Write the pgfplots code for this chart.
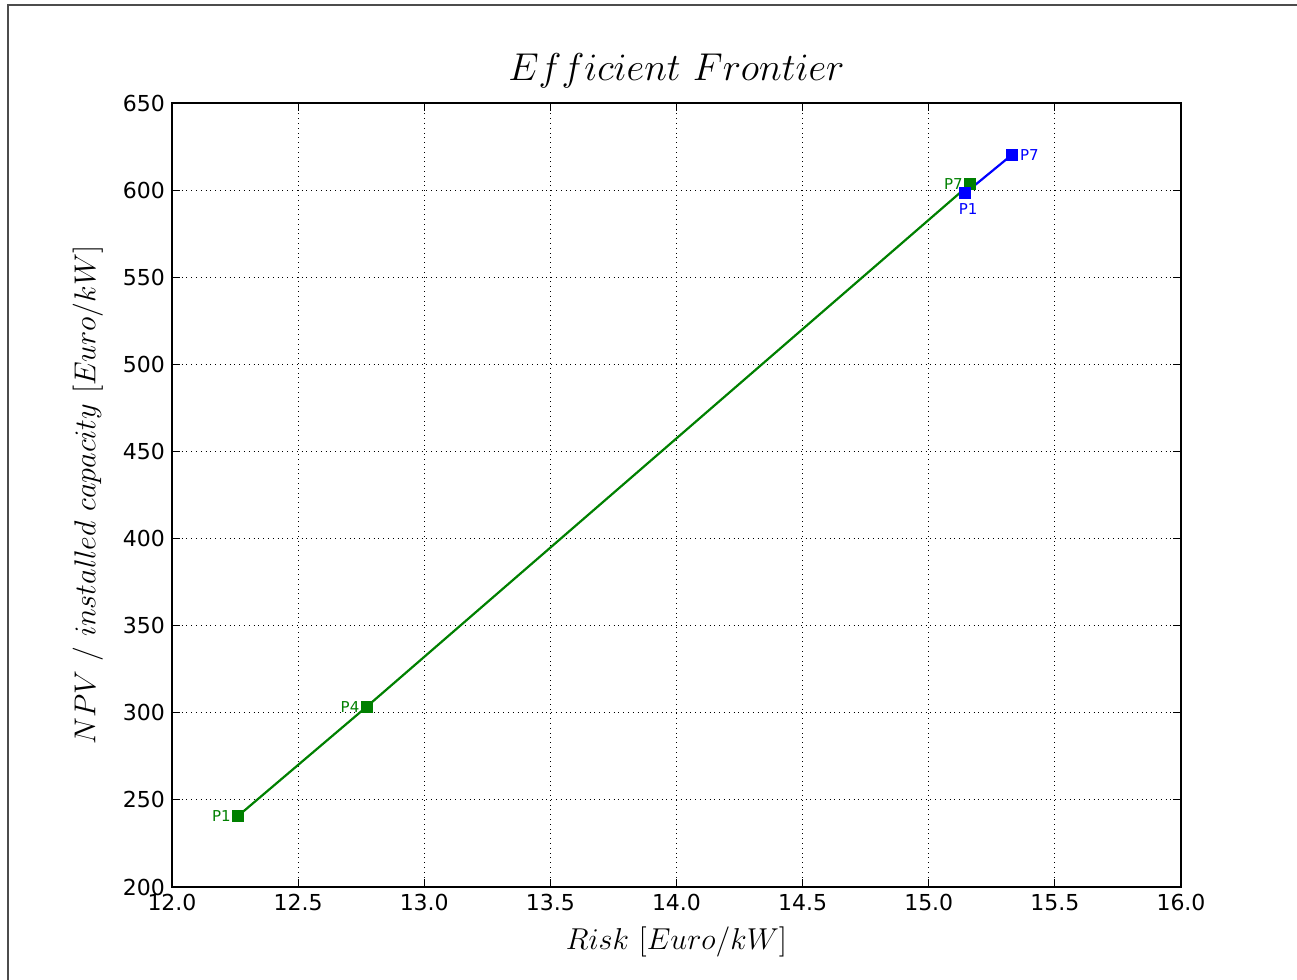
\documentclass[border=0pt]{standalone}
\usepackage{fix-cm}
\usepackage[no-math]{fontspec}
\setmainfont{DejaVu Sans}
\usepackage{pgfplots}
\pgfplotsset{compat=1.18}
\definecolor{mplgreen}{RGB}{0,128,0}
\definecolor{mplblue}{RGB}{0,0,255}
\begin{document}
\begin{tikzpicture}
\begin{axis}[
  at={(0,0)}, anchor=south west,
  scale only axis,
  width=504.5pt, height=392pt,
  xmin=12, xmax=16, ymin=200, ymax=650,
  xtick={12,12.5,...,16}, ytick={200,250,...,650},
  xticklabel style={/pgf/number format/.cd, fixed, fixed zerofill, precision=1},
  /pgf/number format/assume math mode=true,
  ticklabel style={font=\fontsize{11}{13}\selectfont},
  tick align=inside, major tick length=4pt,
  tick style={black, line width=0.5pt},
  axis line style={black, line width=0.8pt},
  grid=major,
  grid style={black, dotted, line width=0.5pt},
  title={$Efficient\ Frontier$},
  title style={font=\fontsize{19.4}{23}\selectfont, at={(axis description cs:0.5,1)}, anchor=base, yshift=5pt},
  xlabel={$Risk\ [Euro/kW]$},
  ylabel={$NPV\ /\ installed\ capacity\ [Euro/kW]$},
  xlabel style={font=\fontsize{15.1}{18}\selectfont, at={(axis description cs:0.5,-0.0702)}, anchor=center},
  ylabel style={font=\fontsize{15.1}{18}\selectfont, at={(axis description cs:-0.0833,0.5)}, anchor=center},
]
% green frontier
\addplot[color=mplgreen, line width=1.1pt, mark=square*, mark size=2.5pt,
  mark options={fill=mplgreen, draw=mplgreen}]
  coordinates {(12.262,240.8) (12.772,303.5) (15.164,603.5)};
% blue frontier
\addplot[color=mplblue, line width=1.1pt, mark=square*, mark size=2.5pt,
  mark options={fill=mplblue, draw=mplblue}]
  coordinates {(15.144,598.2) (15.329,620.2)};
\begin{scope}[font=\fontsize{7.5}{9}\selectfont]
\node[anchor=east, text=mplgreen, inner sep=0pt, xshift=-3.5pt] at (axis cs:12.262,240.8) {P1};
\node[anchor=east, text=mplgreen, inner sep=0pt, xshift=-3.5pt] at (axis cs:12.772,303.5) {P4};
\node[anchor=east, text=mplgreen, inner sep=0pt, xshift=-3.5pt] at (axis cs:15.164,603.5) {P7};
\node[anchor=north, text=mplblue, inner sep=0pt, yshift=-5pt, xshift=1.5pt] at (axis cs:15.144,598.2) {P1};
\node[anchor=west, text=mplblue, inner sep=0pt, xshift=4pt] at (axis cs:15.329,620.2) {P7};
\end{scope}
\end{axis}
\pgfresetboundingbox
\path[use as bounding box] (-86pt,-46.5pt) rectangle (562.5pt,443.5pt);
\draw[gray!60!black, line width=0.8pt] (-82pt,-47pt) -- (-82pt,441pt) -- (563pt,441pt);
\end{tikzpicture}
\end{document}
